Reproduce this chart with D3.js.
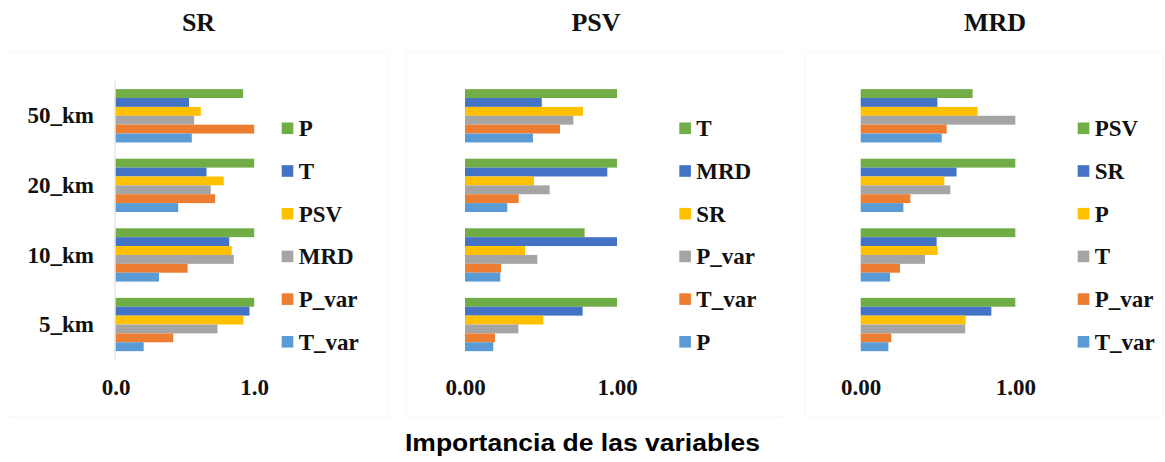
<!DOCTYPE html>
<html>
<head>
<meta charset="utf-8">
<script src="https://cdn.jsdelivr.net/npm/d3@7"></script>
<style>
  html, body { margin: 0; padding: 0; background: #fff; }
  svg { display: block; }
</style>
</head>
<body>
<svg id="chart" width="1165" height="462"></svg>
<script>
// Distance classes, drawn top to bottom
const categories = ["50_km", "20_km", "10_km", "5_km"];

// Office palette, in legend order (top bar of each group first)
const seriesColors = ["#70AD47", "#4472C4", "#FFC000", "#A5A5A5", "#ED7D31", "#5B9BD5"];

// SR model: variable importance per class (50, 20, 10, 5 km)
const srSeries = ["P", "T", "PSV", "MRD", "P_var", "T_var"];
const srValues = [
  [0.92, 1.00, 1.00, 1.00],
  [0.53, 0.656, 0.82, 0.966],
  [0.615, 0.78, 0.838, 0.922],
  [0.567, 0.687, 0.853, 0.735],
  [1.00, 0.718, 0.52, 0.416],
  [0.55, 0.452, 0.313, 0.203]
];
const srTicks = [0, 1];

// PSV model
const psvSeries = ["T", "MRD", "SR", "P_var", "T_var", "P"];
const psvValues = [
  [1.00, 1.00, 0.787, 1.00],
  [0.505, 0.936, 1.00, 0.774],
  [0.776, 0.454, 0.395, 0.515],
  [0.713, 0.557, 0.476, 0.351],
  [0.625, 0.353, 0.237, 0.197],
  [0.447, 0.278, 0.232, 0.186]
];
const psvTicks = [0, 1];

// MRD model
const mrdSeries = ["PSV", "SR", "P", "T", "P_var", "T_var"];
const mrdValues = [
  [0.724, 1.00, 1.00, 1.00],
  [0.496, 0.62, 0.491, 0.845],
  [0.756, 0.541, 0.498, 0.679],
  [1.00, 0.58, 0.416, 0.676],
  [0.556, 0.321, 0.254, 0.198],
  [0.524, 0.276, 0.19, 0.179]
];
const mrdTicks = [0, 1];

const xTitle = "Importancia de las variables";

const svg = d3.select("#chart");
const serif = "'Liberation Serif', 'Times New Roman', serif";
const sans = "'Liberation Sans', Arial, sans-serif";

const plotTop = 81, plotBottom = 359.3;

const panels = [
  { title: "SR", series: srSeries, values: srValues, ticks: srTicks, fmt: ".1f",
    x0: 115.5, x1: 254.2, titleX: 198.5, legX: 281.7, frame: [8, 52, 380, 365],
    showCats: true, showAxisLine: true },
  { title: "PSV", series: psvSeries, values: psvValues, ticks: psvTicks, fmt: ".2f",
    x0: 465, x1: 617, titleX: 596, legX: 679.3, frame: [406, 52, 378, 365],
    showCats: false, showAxisLine: false },
  { title: "MRD", series: mrdSeries, values: mrdValues, ticks: mrdTicks, fmt: ".2f",
    x0: 860.7, x1: 1015.3, titleX: 995, legX: 1077.7, frame: [805, 52, 358, 365],
    showCats: false, showAxisLine: false }
];

const y = d3.scaleBand()
  .domain(categories)
  .range([plotTop, plotBottom])
  .paddingInner(0.234)
  .paddingOuter(0.117);

panels.forEach(p => {
  const g = svg.append("g");

  // faint chart-area frame
  g.append("rect")
    .attr("x", p.frame[0]).attr("y", p.frame[1])
    .attr("width", p.frame[2]).attr("height", p.frame[3])
    .attr("fill", "none").attr("stroke", "#f7f7f7").attr("stroke-width", 1);

  const x = d3.scaleLinear().domain([0, 1]).range([p.x0, p.x1]);
  const ySub = d3.scaleBand().domain(p.series).range([0, y.bandwidth()]);

  // title
  g.append("text")
    .attr("x", p.titleX).attr("y", 30.5)
    .attr("text-anchor", "middle")
    .attr("font-family", serif).attr("font-weight", "bold").attr("font-size", 26)
    .attr("fill", "#111")
    .text(p.title);

  // bars
  p.series.forEach((s, si) => {
    g.append("g").selectAll("rect")
      .data(categories.map((c, ci) => ({ c, v: p.values[si][ci] })))
      .join("rect")
      .attr("x", x(0))
      .attr("y", d => y(d.c) + ySub(s))
      .attr("width", d => x(d.v) - x(0))
      .attr("height", ySub.bandwidth())
      .attr("fill", seriesColors[si]);
  });

  if (p.showAxisLine) {
    g.append("line")
      .attr("x1", x(0) - 0.5).attr("x2", x(0) - 0.5)
      .attr("y1", plotTop).attr("y2", plotBottom)
      .attr("stroke", "#d9d9d9").attr("stroke-width", 1);
  }

  // x axis tick labels
  const xAxis = d3.axisBottom(x).tickValues(p.ticks).tickFormat(d3.format(p.fmt)).tickSize(0);
  const ax = g.append("g").attr("transform", "translate(0,395)").call(xAxis)
    .attr("font-family", serif);
  ax.select(".domain").remove();
  ax.selectAll("text")
    .attr("dy", 0).attr("y", 0)
    .attr("font-family", serif).attr("font-weight", "bold").attr("font-size", 23)
    .attr("fill", "#111");

  // category labels
  if (p.showCats) {
    const yAxis = d3.axisLeft(y).tickSize(0).tickPadding(0);
    const ay = g.append("g").attr("transform", "translate(94,0)").call(yAxis)
      .attr("font-family", serif);
    ay.select(".domain").remove();
    ay.selectAll("text")
      .attr("dy", "0.33em")
      .attr("font-family", serif).attr("font-weight", "bold").attr("font-size", 23)
      .attr("fill", "#111");
  }

  // legend
  const leg = g.append("g");
  p.series.forEach((s, si) => {
    const cy = 128.3 + si * 42.7;
    leg.append("rect")
      .attr("x", p.legX).attr("y", cy - 5.8)
      .attr("width", 11.6).attr("height", 11.6)
      .attr("fill", seriesColors[si]);
    leg.append("text")
      .attr("x", p.legX + 17).attr("y", cy + 7.8)
      .attr("font-family", serif).attr("font-weight", "bold").attr("font-size", 23)
      .attr("fill", "#111")
      .text(s);
  });
});

// shared x-axis title
svg.append("text")
  .attr("x", 582.5).attr("y", 450.5)
  .attr("text-anchor", "middle")
  .attr("font-family", sans).attr("font-weight", "bold").attr("font-size", 23)
  .attr("textLength", 355).attr("lengthAdjust", "spacingAndGlyphs")
  .attr("fill", "#000")
  .text(xTitle);
</script>
</body>
</html>
